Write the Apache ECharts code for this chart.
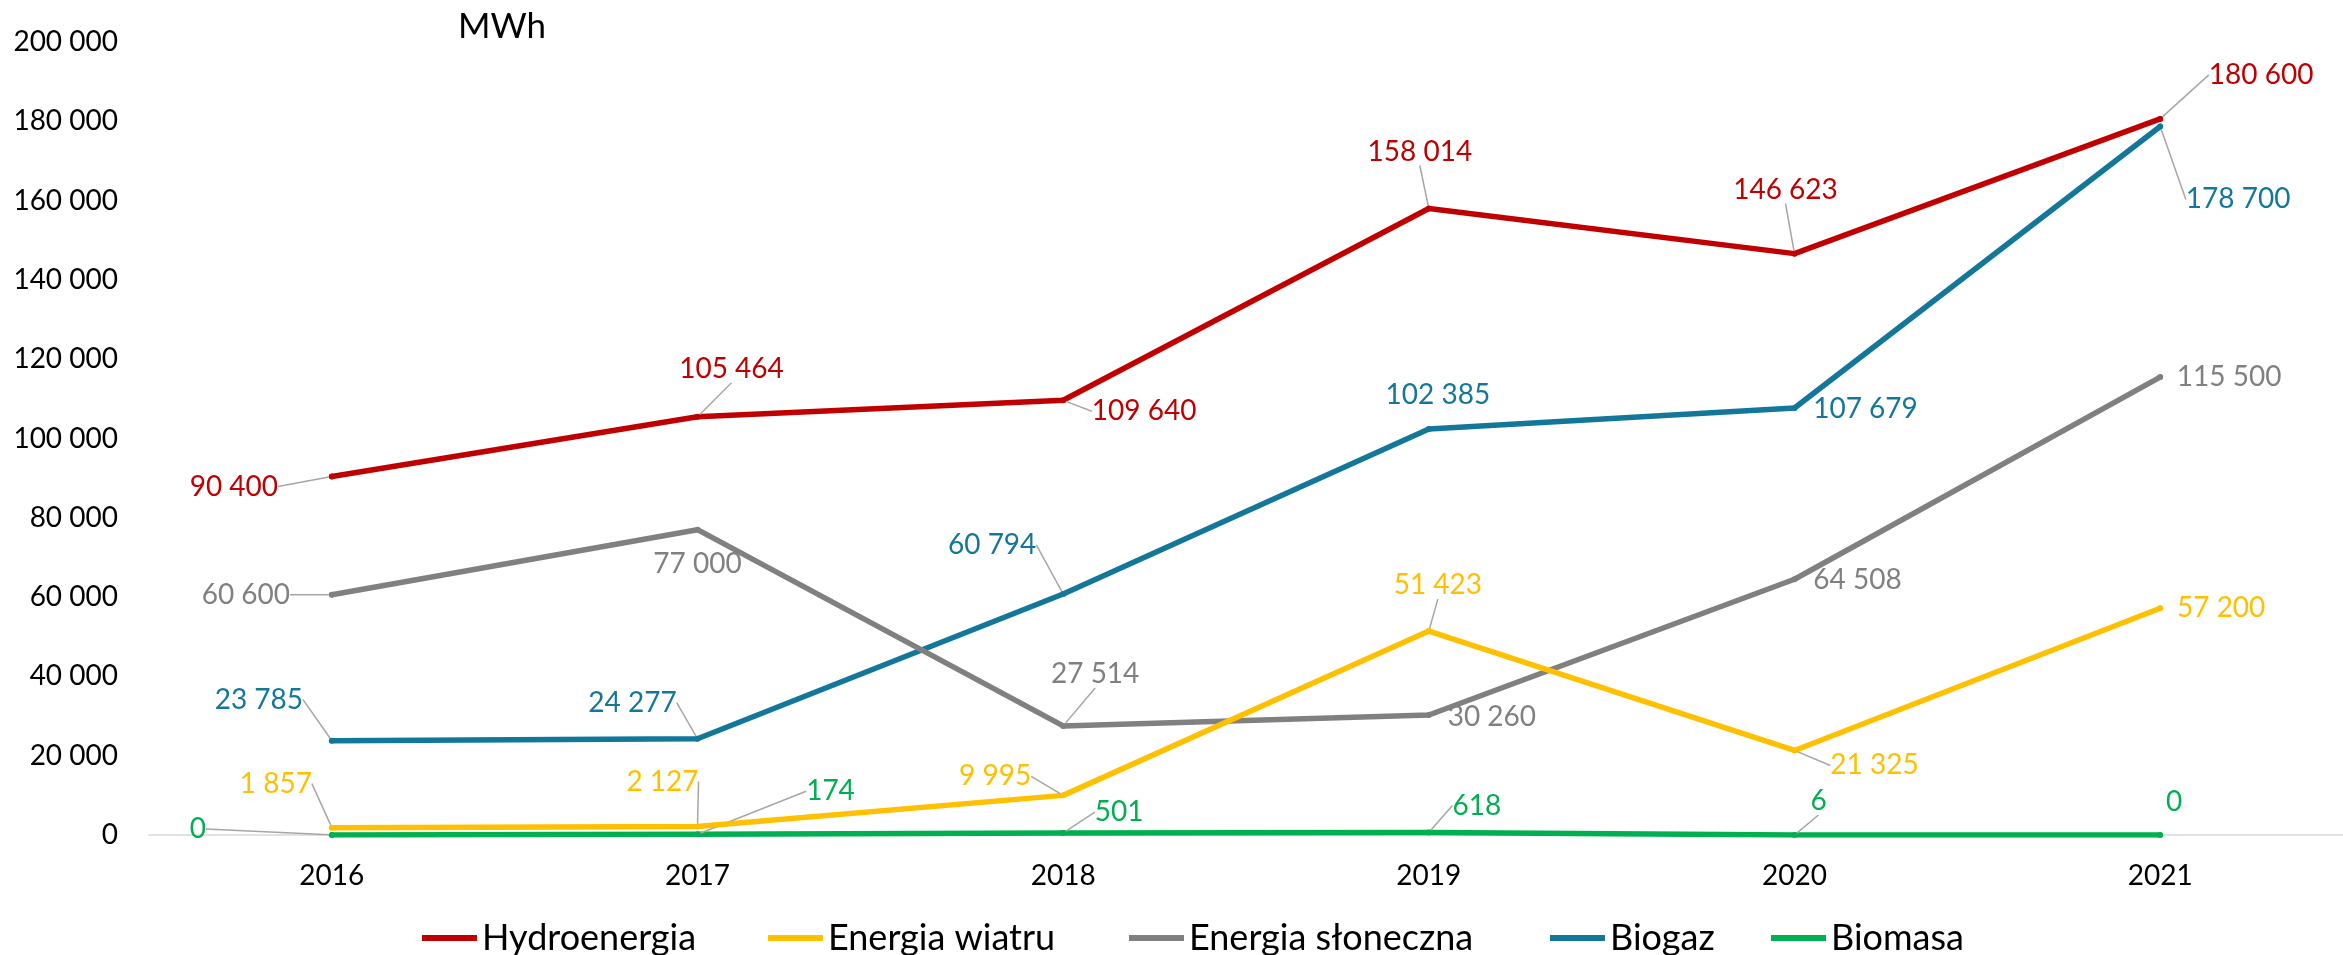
<!DOCTYPE html>
<html>
<head>
<meta charset="utf-8">
<style>
  html, body { margin: 0; padding: 0; background: #fff; }
  #main { width: 2343px; height: 955px; }
</style>
<script src="https://cdn.jsdelivr.net/npm/echarts@6/dist/echarts.min.js"></script>
</head>
<body>
<div id="main"></div>
<script>
var years = ['2016', '2017', '2018', '2019', '2020', '2021'];
var names = ['Hydroenergia', 'Energia wiatru', 'Energia słoneczna', 'Biogaz', 'Biomasa'];
var colors = ['#C00000', '#FFC000', '#808080', '#13779A', '#00B050'];

var hydro = [90400, 105464, 109640, 158014, 146623, 180600];
var wind = [1857, 2127, 9995, 51423, 21325, 57200];
var solar = [60600, 77000, 27514, 30260, 64508, 115500];
var biogas = [23785, 24277, 60794, 102385, 107679, 178700];
var biomass = [0, 174, 501, 618, 6, 0];

var yTicks = [0, 20000, 40000, 60000, 80000, 100000, 120000, 140000, 160000, 180000, 200000];

// label offsets from the point (px) and whether a leader line is drawn
var labelOffsets = [
    [[-98, 10], [34, -48], [81, 11], [-9, -57], [-9, -64], [101, -44]],
    [[-56, -44], [-35, -45], [-68, -19], [9, -46], [80, 15], [61, 0]],
    [[-86, 0], [0, 34], [32, -52], [63, 2], [63, 1], [69, 0]],
    [[-73, -41], [-65, -36], [-71, -49], [9, -34], [71, 1], [78, 73]],
    [[-134, -6], [133, -43], [56, -21], [48, -27], [24, -34], [14, -33]]
];
var leaders = [
    [1, 1, 1, 1, 1, 1],
    [1, 1, 1, 1, 1, 0],
    [1, 0, 1, 0, 0, 0],
    [1, 1, 1, 0, 0, 1],
    [1, 1, 1, 1, 1, 0]
];
// left edge of each legend item
var legendLeft = [417, 763, 1124, 1545, 1766];

function fmt(v) {
    return String(v).replace(/\B(?=(\d{3})+(?!\d))/g, ' ');
}

var allData = [hydro, wind, solar, biogas, biomass];
var series = allData.map(function (vals, s) {
    return {
        name: names[s],
        type: 'line',
        data: vals.map(function (v, i) {
            return { value: v, labelLine: { show: !!leaders[s][i] } };
        }),
        symbol: 'circle',
        symbolSize: 6,
        showSymbol: true,
        itemStyle: { color: colors[s] },
        lineStyle: { color: colors[s], width: 5.5, cap: 'round', join: 'round' },
        z: 10 - s,
        label: {
            show: true,
            position: 'inside',
            color: colors[s],
            fontFamily: 'Lato',
            fontSize: 28,
            formatter: function (p) { return fmt(p.value); }
        },
        labelLine: {
            show: true,
            lineStyle: { color: '#A6A6A6', width: 1.5 }
        },
        labelLayout: function (p) {
            var o = labelOffsets[p.seriesIndex][p.dataIndex];
            return { dx: o[0], dy: o[1] };
        },
        emphasis: { disabled: true },
        animation: false
    };
});

var legends = names.map(function (n, i) {
    return {
        data: [n],
        left: legendLeft[i],
        top: 913,
        icon: 'rect',
        itemWidth: 55,
        itemHeight: 6,
        itemGap: 0,
        selectedMode: false,
        textStyle: { fontFamily: 'Lato', fontSize: 36, color: '#000', lineHeight: 40 }
    };
});

var myChart = echarts.init(document.getElementById('main'));
var option = {
    animation: false,
    title: {
        text: 'MWh',
        left: 458,
        top: 9,
        padding: 0,
        textStyle: { fontFamily: 'Lato', fontSize: 35, fontWeight: 'normal', color: '#000' }
    },
    legend: legends,
    grid: { left: 149, right: -16, top: 42, bottom: 120, containLabel: false },
    xAxis: {
        type: 'category',
        data: years,
        boundaryGap: true,
        axisLine: { lineStyle: { color: '#D9D9D9', width: 1.5 } },
        axisTick: { show: false },
        axisLabel: { fontFamily: 'Lato', fontSize: 28, color: '#000', margin: 27 }
    },
    yAxis: {
        type: 'value',
        min: yTicks[0],
        max: yTicks[yTicks.length - 1],
        interval: yTicks[1] - yTicks[0],
        axisLine: { show: false },
        axisTick: { show: false },
        splitLine: { show: false },
        axisLabel: {
            fontFamily: 'Lato',
            fontSize: 28,
            color: '#000',
            margin: 31,
            formatter: function (v) { return fmt(v); }
        }
    },
    series: series
};
myChart.setOption(option);
</script>
</body>
</html>
